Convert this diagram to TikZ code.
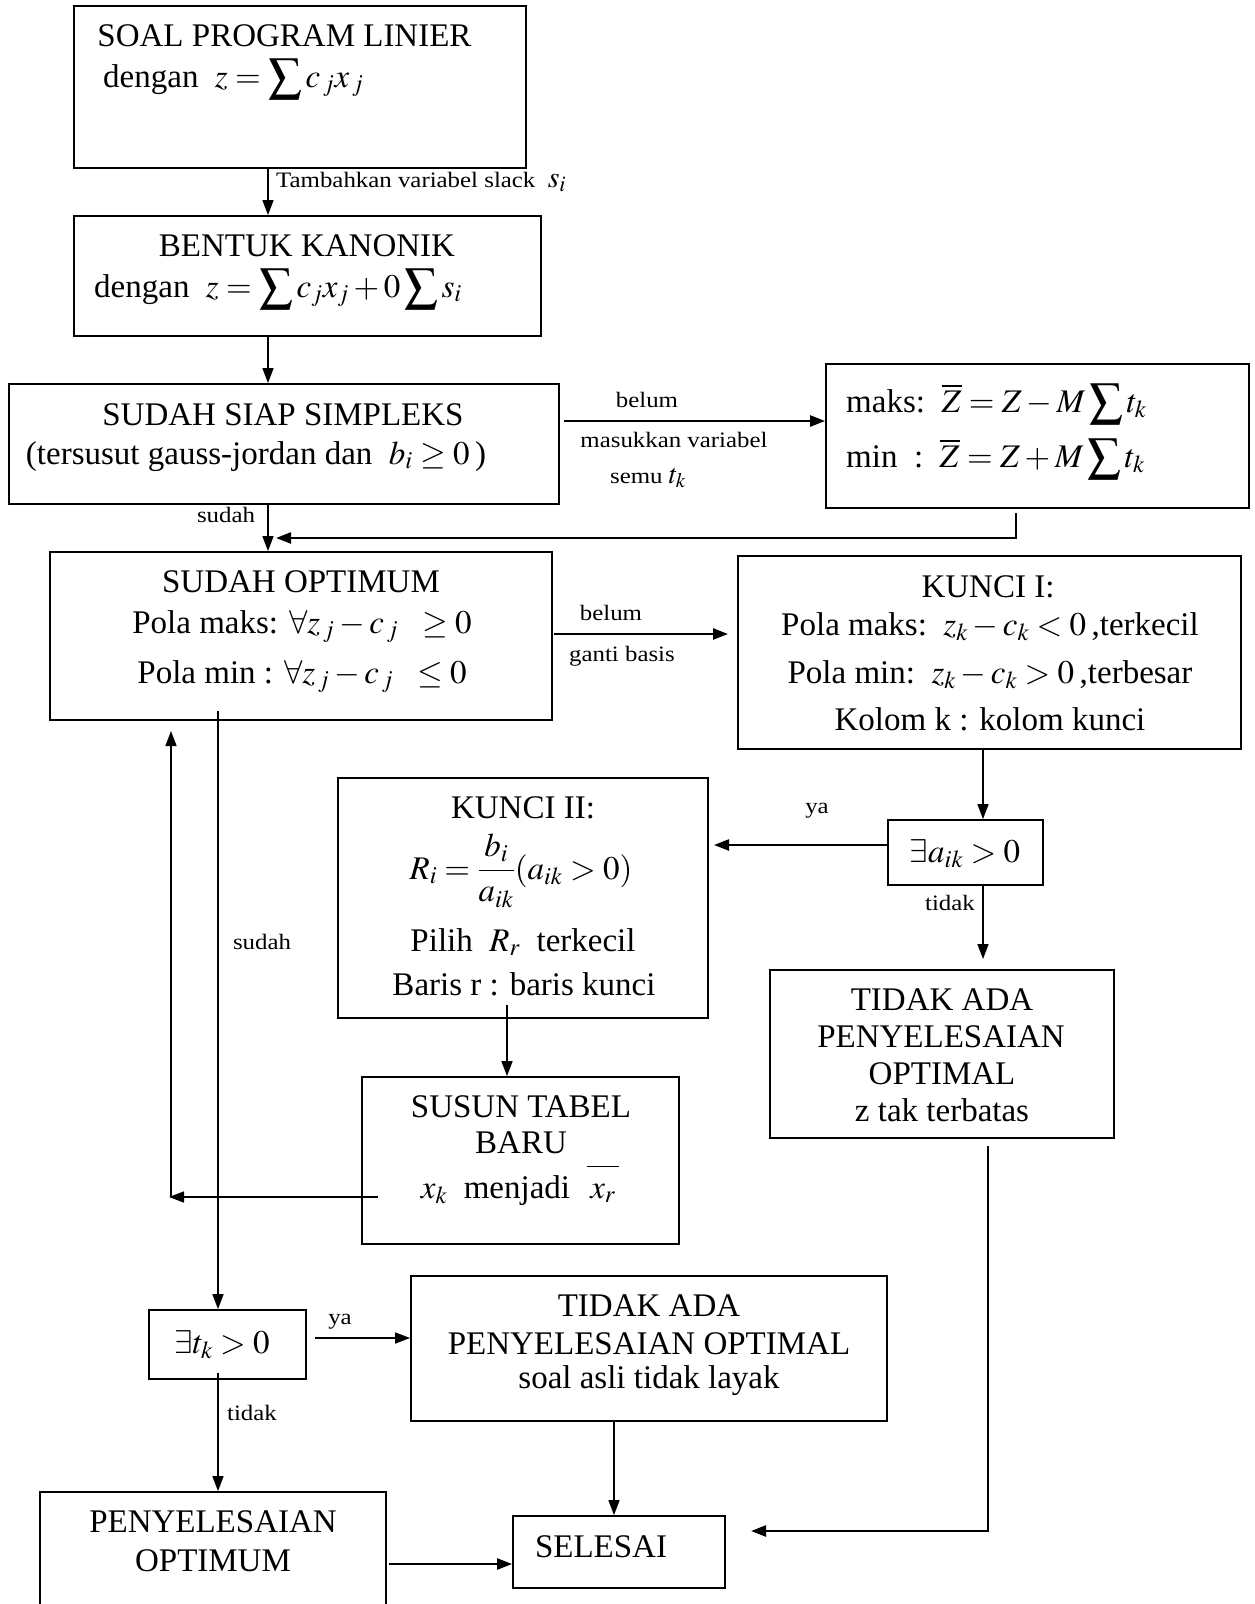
\documentclass[tikz,border=0pt]{standalone}
\usepackage{mathptmx}
\usepackage{fontspec}
\setmainfont{Liberation Serif}
\newfontfamily\labfont[FakeStretch=1.13]{Liberation Serif}
\usetikzlibrary{arrows.meta,fit}
\newcommand\mainsz{\fontsize{33}{40}\selectfont}
\newcommand\labsz{\labfont\fontsize{22}{26}\selectfont}
\newcommand\bsum{\mathop{\vphantom{\textstyle\sum}\smash{\displaystyle\sum}}\nolimits}
\tikzset{
  box/.style={draw, line width=1.8pt, inner sep=0pt, rectangle},
  txt/.style={inner sep=0pt, anchor=base, font=\mainsz},
  txtw/.style={inner sep=0pt, anchor=base west, font=\mainsz},
  lab/.style={inner sep=0pt, anchor=base, font=\labsz},
  labw/.style={inner sep=0pt, anchor=base west, font=\labsz},
  arr/.style={line width=1.5pt, -{Triangle[length=15pt,width=11pt]}},
  arrthick/.style={line width=2.4pt, -{Triangle[length=15pt,width=11pt]}},
}
\begin{document}
\begin{tikzpicture}[x=1pt,y=-1pt]
\useasboundingbox (0,0) rectangle (1255,1604);
\fill[white] (0,0) rectangle (1255,1604);
\clip (0,0) rectangle (1255,1604);

% boxes
\node[box, fit={(74,6) (526,168)}] (b1) {};
\node[box, fit={(74,216) (541,336)}] (b2) {};
\node[box, fit={(9,384) (559,504)}] (b3) {};
\node[box, fit={(826,364) (1249,508)}] (b4) {};
\node[box, fit={(50,552) (552,720)}] (b5) {};
\node[box, fit={(738,556) (1241,749)}] (b6) {};
\node[box, fit={(338,778) (708,1018)}] (b7) {};
\node[box, fit={(888,820) (1043,885)}] (b8) {};
\node[box, fit={(770,970) (1114,1138)}] (b9) {};
\node[box, fit={(362,1077) (679,1244)}] (b10) {};
\node[box, fit={(149,1310) (306,1379)}] (b11) {};
\node[box, fit={(411,1276) (887,1421)}] (b12) {};
\node[box, fit={(40,1492) (386,1640)}] (b13) {};
\node[box, fit={(513,1516) (725,1588)}] (b14) {};

% texts
\node[txt] (t1a) at (284.5,46.5) {SOAL PROGRAM LINIER};
\node[txtw] (t1b) at (103,87) {dengan\ \ $z=\bsum c_{\,j}x_{\,j}$};
\node[txt] (t2a) at (307,256) {BENTUK KANONIK};
\node[txtw] (t2b) at (94,297) {dengan\ \ $z=\bsum c_{j}x_{j}+0\bsum s_i$};
\node[txt] (t3a) at (283,425) {SUDAH SIAP SIMPLEKS};
\node[txt] (t3b) at (256,464) {(tersusut gauss-jordan dan\ \ $b_i\geq 0$\,)};
\node[txtw] (t4a) at (846,412) {maks:\ \ $\overline{Z}=Z-M\bsum t_k$};
\node[txtw] (t4b) at (846,467) {min\ \ :\ \ $\overline{Z}=Z+M\bsum t_k$};
\node[txt] (t5a) at (301,592) {SUDAH OPTIMUM};
\node[txt] (t5b) at (302,633) {Pola maks: $\forall z_{\,j}-c_{\,j}\ \ \geq 0$};
\node[txt] (t5c) at (302,683) {Pola min : $\forall z_{\,j}-c_{\,j}\ \ \leq 0$};
\node[txt] (t6a) at (988,597) {KUNCI I:};
\node[txt] (t6b) at (990,635) {Pola maks:\ \ $z_k-c_k<0$\,,terkecil};
\node[txt] (t6c) at (990,683) {Pola min:\ \ $z_k-c_k>0$\,,terbesar};
\node[txt] (t6d) at (990,730) {Kolom k : kolom kunci};
\node[txt] (t7a) at (523,818) {KUNCI II:};
\node[txt] (t7b) at (521,879) {$R_i=\displaystyle\frac{b_i}{a_{ik}}(a_{ik}>0)$};
\node[txt] (t7c) at (523,951) {Pilih\ \ $R_r$\ \ terkecil};
\node[txt] (t7d) at (524,995) {Baris r : baris kunci};
\node[txt] (t8) at (965,862) {$\exists a_{ik}>0$};
\node[txt] (t9a) at (942,1010) {TIDAK ADA};
\node[txt] (t9b) at (941,1047) {PENYELESAIAN};
\node[txt] (t9c) at (942,1084) {OPTIMAL};
\node[txt] (t9d) at (942,1121) {z tak terbatas};
\node[txt] (t10a) at (521,1117) {SUSUN TABEL};
\node[txt] (t10b) at (521,1153) {BARU};
\node[txt] (t10c) at (520,1198) {$x_k$\ \ menjadi\ \ $\overline{\rule{0pt}{27pt}\,x_r\,}$};
\node[txt] (t11) at (222,1353) {$\exists t_k>0$};
\node[txt] (t12a) at (649,1316) {TIDAK ADA};
\node[txt] (t12b) at (649,1354) {PENYELESAIAN OPTIMAL};
\node[txt] (t12c) at (649,1388) {soal asli tidak layak};
\node[txt] (t13a) at (213,1532) {PENYELESAIAN};
\node[txt] (t13b) at (213,1571) {OPTIMUM};
\node[txt] (t14) at (601,1557) {SELESAI};

% labels
\node[labw] (l1) at (276,187) {Tambahkan variabel slack\ \ {\fontsize{30}{30}\selectfont$s_i$}};
\node[lab] (l2) at (647,407) {belum};
\node[lab] (l3) at (674,447) {masukkan variabel};
\node[lab] (l4) at (648,483) {semu {\fontsize{28}{28}\selectfont$t_k$}};
\node[lab] (l5) at (226,522) {sudah};
\node[lab] (l6) at (611,620) {belum};
\node[lab] (l7) at (622,661) {ganti basis};
\node[lab] (l8) at (817,813) {ya};
\node[lab] (l9) at (950,910) {tidak};
\node[lab] (l10) at (262,949) {sudah};
\node[lab] (l11) at (340,1324) {ya};
\node[lab] (l12) at (252,1420) {tidak};

% coordinates
\coordinate (xA) at (268,0);
\coordinate (s3) at (564,421);
\coordinate (r4a) at (1016,513);
\coordinate (r4b) at (276,538);
\coordinate (s5) at (554,634);
\coordinate (e5) at (728,634);
\coordinate (xC) at (983,0);
\coordinate (yD) at (0,845);
\coordinate (e8) at (714,845);
\coordinate (e9) at (983,959);
\coordinate (s10) at (507,1005);
\coordinate (s11) at (378,1197);
\coordinate (c11) at (169,1197);
\coordinate (v11) at (171,1197);
\coordinate (e11) at (171,731);
\coordinate (s12) at (218,711);
\coordinate (s13) at (315,1338);
\coordinate (s14) at (218,1373);
\coordinate (xE) at (614,0);
\coordinate (s16) at (389,1564);
\coordinate (s17) at (988,1146);
\coordinate (c17) at (988,1531);
\coordinate (e17) at (751,1531);

% connectors
\draw[arr] (b1.south -| xA) -- (b2.north -| xA);
\draw[arr] (b2.south -| xA) -- (b3.north -| xA);
\draw[arr] (b3.south -| xA) -- (b5.north -| xA);
\draw[arrthick] (s3) -- (b4.west |- s3);
\draw[arrthick] (r4a) -- (r4a |- r4b) -- (r4b);
\draw[arrthick] (s5) -- (e5);
\draw[arr] (b6.south -| xC) -- (b8.north -| xC);
\draw[arrthick] (b8.west |- yD) -- (e8);
\draw[arr] (b8.south -| xC) -- (e9);
\draw[arr] (s10) -- (b10.north -| s10);
\draw[arr] (s11) -- (c11);
\draw[arr] (v11) -- (e11);
\draw[arr] (s12) -- (b11.north -| s12);
\draw[arr] (s13) -- (b12.west |- s13);
\draw[arr] (s14) -- (b13.north -| s14);
\draw[arr] (b12.south -| xE) -- (b14.north -| xE);
\draw[arrthick] (s16) -- (b14.west |- s16);
\draw[arrthick] (s17) -- (c17) -- (e17);
\end{tikzpicture}
\end{document}
